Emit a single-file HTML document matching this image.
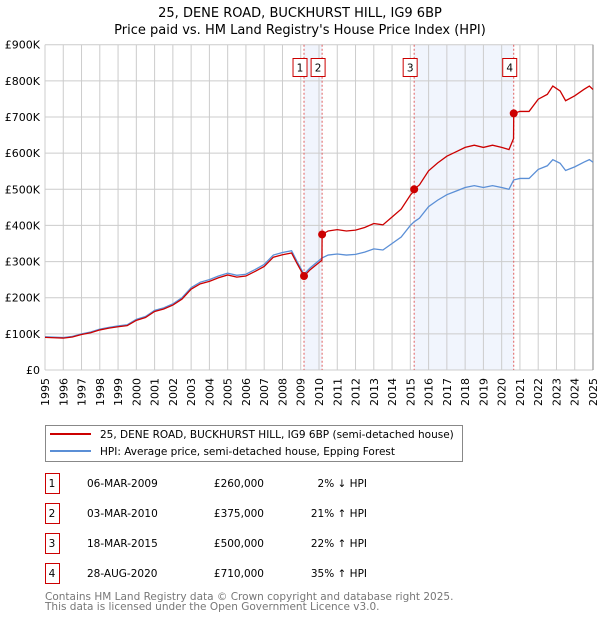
<!DOCTYPE html>
<html><head><meta charset="utf-8">
<style>
body{margin:0;background:#fff;font-family:"Liberation Sans","DejaVu Sans",sans-serif;}
svg text{font-family:"DejaVu Sans","Liberation Sans",sans-serif;}
</style></head>
<body>
<svg id="chart" width="600" height="620" xmlns="http://www.w3.org/2000/svg">
<text x="300" y="17" text-anchor="middle" font-size="13">25, DENE ROAD, BUCKHURST HILL, IG9 6BP</text>
<text x="300" y="34" text-anchor="middle" font-size="13">Price paid vs. HM Land Registry's House Price Index (HPI)</text>
<g id="plot"></g>
<g>
<rect x="45.5" y="425.5" width="417" height="36" fill="#fff" stroke="#888"/>
<line x1="50" y1="434" x2="91" y2="434" stroke="#cc0000" stroke-width="2"/>
<text x="100" y="438" font-size="10.5">25, DENE ROAD, BUCKHURST HILL, IG9 6BP (semi-detached house)</text>
<line x1="50" y1="451" x2="91" y2="451" stroke="#5b8fd6" stroke-width="2"/>
<text x="100" y="455" font-size="10.5">HPI: Average price, semi-detached house, Epping Forest</text>
</g>
<g id="table" font-size="10.5"></g>
<text x="45" y="600" font-size="10.5" fill="#777">Contains HM Land Registry data © Crown copyright and database right 2025.</text>
<text x="45" y="610" font-size="10.5" fill="#777">This data is licensed under the Open Government Licence v3.0.</text>
</svg>
<script>
const hpiYears=[1995,1995.5,1996,1996.5,1997,1997.5,1998,1998.5,1999,1999.5,2000,2000.5,2001,2001.5,2002,2002.5,2003,2003.5,2004,2004.5,2005,2005.5,2006,2006.5,2007,2007.5,2008,2008.5,2008.8,2009.18,2009.5,2010.17,2010.5,2011,2011.5,2012,2012.5,2013,2013.5,2014,2014.5,2015,2015.21,2015.5,2016,2016.5,2017,2017.5,2018,2018.5,2019,2019.5,2020,2020.4,2020.66,2021,2021.5,2022,2022.5,2022.8,2023.2,2023.5,2024,2024.5,2024.8,2025];
const hpiValues=[92,91,90,93,100,105,113,118,122,125,140,148,165,172,183,200,228,243,250,260,268,262,265,278,292,318,325,330,300,265,282,310,318,321,318,320,326,335,332,350,368,400,410,420,452,470,485,495,505,510,505,510,505,500,526,530,530,555,565,582,572,552,562,575,582,575];
const saleLabels=["1","2","3","4"];
const saleYears=[2009.18,2010.17,2015.21,2020.66];
const salePrices=[260000,375000,500000,710000];
const saleDates=["06-MAR-2009","03-MAR-2010","18-MAR-2015","28-AUG-2020"];
const salePctText=["2% \u2193 HPI","21% \u2191 HPI","22% \u2191 HPI","35% \u2191 HPI"];
const yTicks=[0,100,200,300,400,500,600,700,800,900];
const yTickLabels=["£0","£100K","£200K","£300K","£400K","£500K","£600K","£700K","£800K","£900K"];
const xTicks=[1995,1996,1997,1998,1999,2000,2001,2002,2003,2004,2005,2006,2007,2008,2009,2010,2011,2012,2013,2014,2015,2016,2017,2018,2019,2020,2021,2022,2023,2024,2025];

const NS="http://www.w3.org/2000/svg";
const X0=45,X1=593,Y0=370,Y1=44.7;
const xs=t=>X0+(t-1995)/(2025-1995)*(X1-X0);
const ys=v=>Y0-v/900*(Y0-Y1);
const plot=document.getElementById('plot');
function mk(tag,attrs,parent){const e=document.createElementNS(NS,tag);for(const k in attrs)e.setAttribute(k,attrs[k]);(parent||plot).appendChild(e);return e;}

for(const [a,b] of [[0,1],[2,3]]){
  const r=mk('rect',{x:xs(saleYears[a]),y:Y1,width:xs(saleYears[b])-xs(saleYears[a]),height:Y0-Y1,fill:'#eef3fc',opacity:0.8});
  
  
}
xTicks.forEach(t=>{
  const l=mk('line',{x1:xs(t),x2:xs(t),y1:Y1,y2:Y0,stroke:'#ccc','stroke-width':1});
  
  
  const tx=mk('text',{x:0,y:0,transform:`translate(${xs(t)+4},${Y0+8}) rotate(-90)`,'text-anchor':'end','font-size':'11'});
  tx.textContent=t;
  
  
});
yTicks.forEach((v,i)=>{
  const l=mk('line',{x1:X0,x2:X1,y1:ys(v),y2:ys(v),stroke:'#ccc','stroke-width':1});
  
  
  const tx=mk('text',{x:40,y:ys(v)+4,'text-anchor':'end','font-size':'11'});
  tx.textContent=yTickLabels[i];
  
  
});
const rb=mk('line',{x1:X1,x2:X1,y1:Y1,y2:Y0,stroke:'#999','stroke-width':1.2});


saleYears.forEach(t=>{
  const l=mk('line',{x1:xs(t),x2:xs(t),y1:Y1,y2:Y0,stroke:'#e06060','stroke-width':1,'stroke-dasharray':'2,2'});
  
  
});
function hpiAt(t){
  for(let i=0;i<hpiYears.length-1;i++){
    if(t>=hpiYears[i]&&t<=hpiYears[i+1]){const f=(t-hpiYears[i])/(hpiYears[i+1]-hpiYears[i]);return hpiValues[i]+f*(hpiValues[i+1]-hpiValues[i]);}
  }
  return hpiValues[hpiValues.length-1];
}
const hp=mk('polyline',{points:hpiYears.map((t,i)=>xs(t)+','+ys(hpiValues[i])).join(' '),fill:'none',stroke:'#5b8fd6','stroke-width':1.3});


function propAt(t){
  let k=0;
  for(let i=0;i<saleYears.length;i++) if(t>=saleYears[i]) k=i;
  return salePrices[k]/1000*hpiAt(t)/hpiAt(saleYears[k]);
}
const pts=[];
hpiYears.forEach(t=>{
  saleYears.forEach((s,i)=>{ if(t>s-0.001 && pts.length && pts[pts.length-1][0]<s){pts.push([s-0.01,propAt(s-0.01)]);pts.push([s,salePrices[i]/1000]);} });
  pts.push([t,propAt(t)]);
});
const pl=mk('polyline',{points:pts.map(p=>xs(p[0])+','+ys(p[1])).join(' '),fill:'none',stroke:'#cc0000','stroke-width':1.3});


saleYears.forEach((t,i)=>{
  const c=mk('circle',{cx:xs(t),cy:ys(salePrices[i]/1000),r:4,fill:'#cc0000'});
  
  
  const cx=xs(t)-4;
  const r=mk('rect',{x:cx-7,y:58.5,width:14,height:18,fill:'#fff',stroke:'#cc0000'});
  
  
  const tx=mk('text',{x:cx,y:71.5,'text-anchor':'middle','font-size':'10.5'});
  tx.textContent=saleLabels[i];
  
  
});
const tb=document.getElementById('table');
saleYears.forEach((t,i)=>{
  const y=483+i*30;
  const r=mk('rect',{x:45.5,y:y-9.5,width:14,height:20,fill:'#fff',stroke:'#cc0000'},tb);
  
  
  const cells=[[52,saleLabels[i],'middle'],[87,saleDates[i],'start'],[264,'£'+salePrices[i].toLocaleString('en-GB'),'end'],[367,salePctText[i],'end']];
  cells.forEach(c=>{
    const tx=mk('text',{x:c[0],y:y+4,'text-anchor':c[2],'font-size':'10.5'},tb);
    tx.textContent=c[1];
    
    
  });
});
</script>
</body></html>
